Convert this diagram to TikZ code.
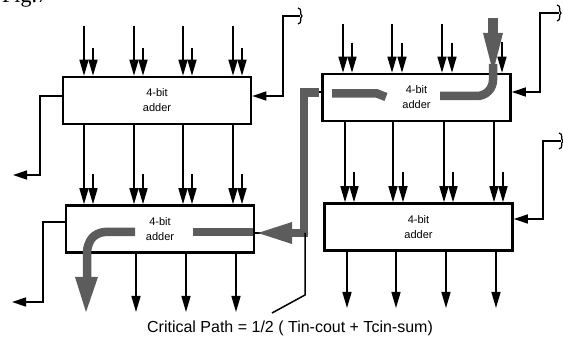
\documentclass[tikz,border=0pt]{standalone}
\usepackage{fontspec}
\setmainfont{Liberation Serif}
\setsansfont{Liberation Sans}
\usetikzlibrary{arrows.meta}
\definecolor{critc}{gray}{0.36}
\begin{document}
\begin{tikzpicture}[x=1pt,y=-1pt,
  adder/.style={draw, line width=2.6pt, minimum width=188pt, minimum height=47pt, inner sep=0pt, align=center,
    font=\sffamily\fontsize{11}{15}\selectfont},
  wire/.style={line width=1.5pt},
  arr/.style={wire, -{Triangle[length=16pt,width=9pt]}},
  sarr/.style={wire, -{Triangle[length=14pt,width=9pt]}},
  crit/.style={line width=8.5pt, draw=critc, line cap=butt},
  brk/.pic={\draw[line width=1.2pt] (-2,-8) .. controls (3,-7) and (-1,-2) .. (2,0) .. controls (-1,2) and (3,7) .. (-2,8);}]
\useasboundingbox (0,0) rectangle (563,339);

% figure caption (cut off at the top, as in the reference)
\node[anchor=base west, inner sep=0pt, font=\fontsize{22}{24}\selectfont] (fig) at (2,3) {Fig.7};

% adders
\node[adder] (TL) at (157,100.5) {4-bit\\adder};
\node[adder] (BL) at (160,229) {4-bit\\adder};
\node[adder] (TR) at (416.5,97.5) {4-bit\\adder};
\node[adder] (BR) at (418.5,227) {4-bit\\adder};

% ---- left column ----
\foreach \x/\s in {84/93,134/143,183/192,233/242}{
  \draw[arr] (\x,26) -- (\x,0 |- TL.north);
  \draw[arr] (\s,48) -- (\s,0 |- TL.north);
  \draw[arr] (\x,0 |- TL.south) -- (\x,0 |- BL.north);
  \draw[arr] (\s,174) -- (\s,0 |- BL.north);
}
\foreach \x in {136,186,236}{
  \draw[arr] (\x,0 |- BL.south) -- (\x,312);
}
\draw[wire] (87,0 |- BL.south) -- (87,300);

% carry lines left column
\coordinate (tlin) at (300,16);
\draw[sarr] (tlin) -- (283,16) -- (283,96) -- (283,96 -| TL.east);
\pic at (tlin) {brk};
\coordinate (tlout) at (13,175);
\draw[sarr] (62,96 -| TL.west) -- (40,96) -- (40,175) -- (tlout);
\coordinate (blout) at (12,302);
\draw[sarr] (64,222 -| BL.west) -- (43,222) -- (43,302) -- (blout);

% ---- right column ----
\foreach \x/\s in {343/352,392/402,442/452}{
  \draw[arr] (\x,24) -- (\x,0 |- TR.north);
  \draw[arr] (\s,43) -- (\s,0 |- TR.north);
}
\foreach \x/\s in {345/354,393/403,444/453,494/503}{
  \draw[arr] (\x,0 |- TR.south) -- (\x,0 |- BR.north);
  \draw[arr] (\s,172) -- (\s,0 |- BR.north);
}
\foreach \x in {347,396,446,496}{
  \draw[arr] (\x,0 |- BR.south) -- (\x,308);
}

% carry lines right column
\coordinate (trin) at (559,13);
\draw[sarr] (trin) -- (540,13) -- (540,92) -- (540,92 -| TR.east);
\pic at (trin) {brk};
\coordinate (brin) at (561,141);
\draw[sarr] (brin) -- (543,141) -- (543,219) -- (543,219 -| BR.east);
\pic at (brin) {brk};

% carry from TR to BL
\draw[wire] (320,92 -| TR.west) -- (305,92) -- (305,233) -- (260,233 -| BL.east);

% ---- critical path (shaded) ----
\fill[critc] (488,18) rectangle (498,34);
\fill[critc] (483,33) -- (503,33) -- (493,72) -- cycle;
\draw[crit, rounded corners=16pt] (493,64) -- (493,96) -- (440,96);
\draw[crit] (332,93.5) -- (377,93.5) -- (386,97);
\draw[crit, line join=miter] (319,92.5) -- (304,92.5) -- (304,233) -- (291,233);
\fill[critc] (292,222) -- (292,244) -- (258,233) -- cycle;
\draw[crit] (193,232) -- (253,232);
\draw[crit, rounded corners=8pt] (135,232) -- (97,232) -- (87,244) -- (87,278);
\fill[critc] (75,277) -- (98,277) -- (86,312) -- cycle;
\draw[arr] (502,42) -- (502,0 |- TR.north);

% label and pointer
\node[anchor=base, inner sep=1pt, font=\sffamily\fontsize{16}{18}\selectfont] (cp) at (290,333)
  {Critical Path = 1/2 ( Tin-cout + Tcin-sum)};
\coordinate (cpend) at (272,313);
\draw[wire] (cpend) -- (305,295) -- (305,233);
\end{tikzpicture}
\end{document}
